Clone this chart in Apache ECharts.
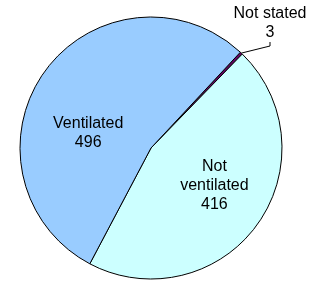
<!DOCTYPE html>
<html>
<head>
<meta charset="utf-8">
<script src="https://cdn.jsdelivr.net/npm/echarts@6/dist/echarts.min.js"></script>
<style>
  html, body { margin: 0; padding: 0; background: #fff; }
  #chart { width: 319px; height: 282px; }
</style>
</head>
<body>
<div id="chart"></div>
<script>
// 数据
var categories = ['Not stated', 'Not ventilated', 'Ventilated'];
var values = [3, 416, 496];
var colors = ['#660066', '#CCFFFF', '#99CCFF'];

// 标签微调 (dx, dy)
var labelShift = [
  null,
  { dx: 8, dy: -3 },
  { dx: -7, dy: 25 }
];

var myChart = echarts.init(document.getElementById('chart'));
myChart.setOption({
  animation: false,
  series: [
    {
      type: 'pie',
      center: [151, 148],
      radius: 131,
      startAngle: 47,
      clockwise: true,
      avoidLabelOverlap: false,
      data: categories.map(function (name, i) {
        var item = {
          name: name,
          value: values[i],
          itemStyle: { color: colors[i] }
        };
        if (i === 0) {
          item.label = { position: 'outside' };
          item.labelLine = { show: true, length: 10, length2: 4, lineStyle: { color: '#000', width: 1 } };
        }
        return item;
      }),
      itemStyle: { borderColor: '#000', borderWidth: 1 },
      label: {
        show: true,
        position: 'inside',
        fontFamily: 'Liberation Sans, Arial, sans-serif',
        fontSize: 16,
        lineHeight: 19,
        color: '#000',
        align: 'center',
        formatter: function (p) {
          var name = p.dataIndex === 0 ? p.name : p.name.replace(' ', '\n');
          return name + '\n' + p.value;
        }
      },
      labelLine: { show: false },
      labelLayout: function (params) {
        if (params.dataIndex === 0) {
          return { x: 270, y: 23, align: 'center', verticalAlign: 'middle' };
        }
        return labelShift[params.dataIndex];
      },
      emphasis: { disabled: true }
    }
  ]
});
</script>
</body>
</html>
